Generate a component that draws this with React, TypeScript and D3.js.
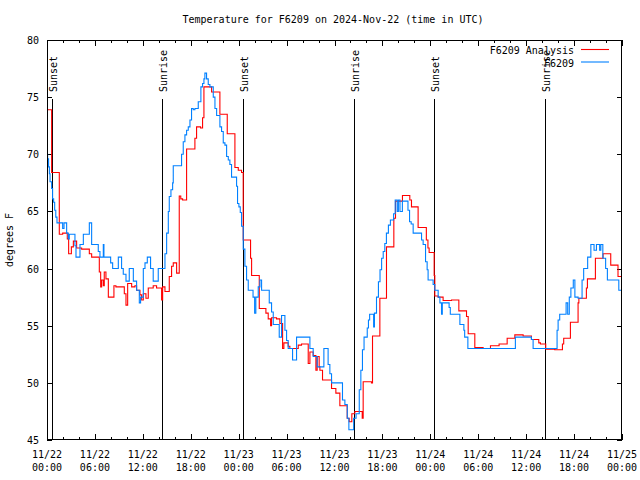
import React from "react";
import * as d3 from "d3";

const title = "Temperature for F6209 on 2024-Nov-22 (time in UTC)";
const yLabel = "degrees F";
const xTickHours = [0, 6, 12, 18, 24, 30, 36, 42, 48, 54, 60, 66, 72];
const xTickDates = ["11/22", "11/22", "11/22", "11/22", "11/23", "11/23", "11/23", "11/23", "11/24", "11/24", "11/24", "11/24", "11/25"];
const xTickTimes = ["00:00", "06:00", "12:00", "18:00", "00:00", "06:00", "12:00", "18:00", "00:00", "06:00", "12:00", "18:00", "00:00"];
const yTicks = [45, 50, 55, 60, 65, 70, 75, 80];

const sunHours = [0.59, 14.43, 24.57, 38.46, 48.48, 62.37];
const sunLabels = ["Sunset", "Sunrise", "Sunset", "Sunrise", "Sunset", "Sunrise"];

const seriesNames = ["F6209 Analysis", "F6209"];
const seriesColors = ["#ff0000", "#0080ff"];

// Analysis (red): [hour, temp]
const analysis: [number, number][] = [
  [0, 73.9], [0.58, 68.4], [1.54, 63.0], [1.96, 63.1], [2.54, 62.6], [2.71, 61.3], [3.05, 61.9], [3.3, 62.4],
  [3.71, 61.8], [4.34, 61.7], [5.3, 61.3], [5.59, 61.0], [6.55, 59.7], [6.72, 58.4], [6.84, 59.0], [7.05, 58.5],
  [7.17, 59.7], [7.38, 59.1], [7.68, 57.5], [8.38, 58.5], [8.63, 58.4], [9.68, 57.8], [9.89, 56.8], [10.1, 58.7],
  [10.6, 58.4], [11.01, 58.5], [11.22, 58.1], [11.64, 57.7], [11.85, 57.25], [12.06, 57.8], [12.39, 57.4],
  [12.68, 58.3], [13.3, 58.5], [13.72, 58.3], [14.35, 57.25], [14.48, 58.4], [14.77, 58.0], [15.31, 59.3],
  [15.6, 60.2], [15.81, 60.5], [16.23, 59.6], [16.56, 66.35], [16.75, 66.1], [16.98, 66.0], [17.48, 70.46],
  [18.52, 71.4], [18.73, 72.4], [19.23, 72.3], [19.48, 73.2], [19.65, 75.9], [20.61, 75.45], [21.65, 73.5],
  [22.57, 71.8], [23.53, 68.85], [23.95, 68.6], [24.36, 68.4], [24.57, 62.5], [25.49, 60.9], [25.62, 59.4],
  [26.58, 56.5], [27.41, 56.1], [27.7, 55.6], [28.0, 55.0], [28.12, 55.7], [28.74, 55.6], [29.16, 55.2],
  [29.5, 53.0], [29.66, 53.5], [30.2, 53.2], [30.41, 53.0], [31.46, 53.3], [31.87, 53.4], [32.71, 51.7],
  [32.92, 52.7], [33.33, 52.4], [33.67, 51.1], [33.83, 52.3], [34.08, 51.4], [34.17, 51.1], [34.5, 50.25],
  [35.63, 49.5], [36.17, 49.1], [36.67, 48.0], [37.59, 46.9], [37.84, 46.6], [38.17, 47.3], [38.55, 47.5],
  [39.47, 46.9], [39.59, 50.1], [40.63, 50.0], [40.76, 54.1], [41.68, 57.4], [42.51, 61.9], [43.43, 64.4],
  [43.64, 65.9], [44.51, 66.4], [45.43, 66.0], [45.64, 65.4], [46.47, 63.6], [47.5, 62.5], [47.7, 61.8],
  [47.85, 61.4], [48.48, 59.4], [48.56, 57.6], [48.98, 57.5], [49.6, 57.2], [50.65, 57.25], [51.57, 56.3],
  [52.53, 55.8], [52.74, 54.3], [53.57, 53.1], [54.61, 53.0], [55.53, 53.25], [56.61, 53.4], [57.62, 53.9],
  [58.58, 54.2], [59.62, 54.1], [60.66, 53.8], [61.58, 53.5], [61.79, 53.4], [62.45, 52.95], [63.58, 52.9],
  [64.54, 53.4], [64.7, 53.9], [65.54, 55.3], [66.5, 57.0], [66.6, 57.4], [67.54, 58.3], [67.67, 59.1],
  [68.67, 60.9], [69.63, 61.3], [70.59, 60.3], [71.5, 59.3], [72, 59.3],
];

// Observed (blue): [hour, temp]
const observed: [number, number][] = [
  [0, 70.0], [0.08, 69.6], [0.2, 68.9], [0.3, 68.3], [0.38, 67.6], [0.58, 67.0], [0.7, 66.1], [0.83, 65.8],
  [0.96, 65.1], [1.1, 64.5], [1.25, 64.0], [1.96, 63.5], [2.13, 64.0], [2.46, 63.1], [2.67, 62.6], [2.79, 63.0],
  [3.5, 62.0], [3.63, 61.0], [4.13, 62.1], [4.55, 63.0], [5.3, 64.0], [5.59, 62.1], [6.42, 61.5], [6.63, 61.0],
  [7.05, 62.1], [7.13, 61.0], [7.97, 60.5], [8.22, 60.0], [8.93, 61.0], [9.34, 60.0], [9.55, 59.5], [9.89, 58.9],
  [10.3, 60.0], [10.81, 58.9], [11.22, 58.1], [11.56, 57.0], [11.72, 57.5], [12.06, 60.0], [12.27, 60.5],
  [12.56, 61.0], [12.97, 60.0], [13.3, 58.9], [13.93, 60.0], [14.77, 61.3], [14.98, 63.1], [15.19, 65.0],
  [15.31, 66.3], [15.52, 66.9], [15.73, 67.5], [15.81, 69.0], [16.85, 70.0], [17.06, 71.1], [17.27, 71.7],
  [17.48, 72.1], [17.69, 72.4], [17.9, 73.0], [18.1, 74.0], [18.31, 73.9], [18.52, 74.0], [18.94, 74.6],
  [19.27, 75.9], [19.48, 76.2], [19.65, 76.6], [19.77, 77.1], [19.98, 76.6], [20.19, 76.1], [20.4, 75.9],
  [20.82, 75.0], [21.03, 74.0], [21.24, 73.4], [21.65, 72.4], [21.86, 72.0], [22.07, 71.0], [22.28, 70.8],
  [22.49, 69.8], [22.7, 69.5], [22.9, 69.1], [23.11, 68.0], [23.74, 67.2], [23.86, 65.7], [24.03, 65.4],
  [24.2, 64.9], [24.36, 63.7], [24.57, 61.7], [24.78, 60.2], [24.99, 59.0], [25.2, 58.1], [25.8, 57.5],
  [26.0, 56.1], [26.15, 57.5], [26.45, 58.4], [26.66, 59.0], [26.87, 58.1], [27.83, 57.0], [28.12, 56.2],
  [28.33, 55.1], [29.08, 54.0], [29.37, 55.9], [29.79, 54.6], [30.0, 53.7], [30.2, 53.0], [30.75, 52.0],
  [31.25, 54.0], [32.92, 53.0], [33.33, 52.3], [33.83, 51.4], [34.67, 53.0], [35.2, 51.6], [35.42, 50.8],
  [35.63, 50.0], [37.0, 48.5], [37.3, 48.1], [37.6, 46.9], [37.8, 45.9], [38.4, 46.9], [38.7, 47.3],
  [39.1, 49.4], [39.3, 51.1], [39.5, 52.9], [39.7, 54.0], [40.1, 54.8], [40.25, 55.5], [40.4, 56.0],
  [40.9, 54.9], [41.0, 56.1], [41.26, 57.5], [41.5, 58.85], [41.7, 59.9], [41.9, 60.9], [42.1, 61.5],
  [42.3, 62.2], [42.5, 63.1], [42.75, 63.8], [43.0, 64.25], [43.4, 64.8], [43.6, 66.0], [43.85, 65.0],
  [44.0, 66.0], [44.2, 65.0], [44.5, 65.9], [45.2, 65.1], [45.4, 64.1],
  [45.6, 63.9], [45.85, 63.1], [46.9, 62.5], [47.1, 62.1], [47.4, 60.6], [47.6, 59.9], [47.72, 59.0],
  [48.35, 58.6], [48.56, 58.1], [48.98, 57.5], [49.2, 57.0], [49.4, 56.0], [49.5, 57.0], [50.35, 56.6],
  [50.5, 56.0], [51.7, 55.1], [52.2, 54.6], [52.3, 54.0], [52.7, 53.0], [58.65, 54.0], [60.66, 53.8],
  [60.87, 53.0], [63.87, 54.6], [64.0, 55.5], [64.2, 56.0], [65.0, 57.0], [65.2, 56.0], [65.4, 57.5],
  [65.6, 58.3], [65.9, 59.0], [66.1, 57.5], [66.5, 57.4], [67.0, 59.0], [67.2, 60.0], [67.7, 61.0],
  [68.1, 62.1], [68.5, 61.6], [68.8, 62.1], [69.2, 61.6], [69.35, 62.1],
  [69.6, 60.9], [69.95, 60.0], [70.17, 59.0], [71.6, 58.1], [72, 58.1],
];

const W = 640;
const H = 480;
const left = 47;
const right = 622;
const top = 40;
const bottom = 440;
const FONT = "'DejaVu Sans Mono', 'Liberation Mono', monospace";

export default function App() {
  const x = d3.scaleLinear().domain([0, 72]).range([left, right]);
  const y = d3.scaleLinear().domain([45, 80]).range([bottom, top]);
  const line = d3
    .line<[number, number]>()
    .x((d) => x(d[0]))
    .y((d) => y(d[1]))
    .curve(d3.curveStepAfter);

  const minorTicks = d3.range(0, 73, 2).filter((h) => h % 6 !== 0);

  return (
    <svg
      width={W}
      height={H}
      style={{ position: "absolute", left: 0, top: 0, background: "#fff" }}
      fontFamily={FONT}
      fontSize={10}
    >
      <rect x={0} y={0} width={W} height={H} fill="#fff" />
      <text x={333} y={23} textAnchor="middle" fill="#000">
        {title}
      </text>
      <text
        transform={`translate(13,${(top + bottom) / 2}) rotate(-90)`}
        textAnchor="middle"
        fill="#000"
      >
        {yLabel}
      </text>

      {/* y ticks */}
      {yTicks.map((t) => (
        <g key={"y" + t}>
          <line x1={left} x2={left + 5} y1={Math.round(y(t)) + 0.5} y2={Math.round(y(t)) + 0.5} stroke="#000" />
          <line x1={right - 5} x2={right} y1={Math.round(y(t)) + 0.5} y2={Math.round(y(t)) + 0.5} stroke="#000" />
          <text x={39} y={y(t) + 4} textAnchor="end" fill="#000">
            {t}
          </text>
        </g>
      ))}

      {/* x ticks */}
      {xTickHours.map((h, i) => {
        const px = Math.round(x(h)) + 0.5;
        return (
          <g key={"x" + h}>
            <line x1={px} x2={px} y1={bottom} y2={bottom - 6} stroke="#000" />
            <line x1={px} x2={px} y1={top} y2={top + 6} stroke="#000" />
            <text x={x(h)} y={458} textAnchor="middle" fill="#000">
              {xTickDates[i]}
            </text>
            <text x={x(h)} y={471} textAnchor="middle" fill="#000">
              {xTickTimes[i]}
            </text>
          </g>
        );
      })}
      {minorTicks.map((h) => {
        const px = Math.round(x(h)) + 0.5;
        return (
          <g key={"m" + h}>
            <line x1={px} x2={px} y1={bottom} y2={bottom - 3} stroke="#000" />
            <line x1={px} x2={px} y1={top} y2={top + 3} stroke="#000" />
          </g>
        );
      })}

      {/* sun lines */}
      {sunHours.map((h, i) => {
        const px = Math.round(x(h)) + 0.5;
        return (
          <g key={"s" + i}>
            <line x1={px} x2={px} y1={99} y2={bottom} stroke="#000" />
            <text
              transform={`translate(${px + 4.5},92) rotate(-90)`}
              textAnchor="start"
              fill="#000"
            >
              {sunLabels[i]}
            </text>
          </g>
        );
      })}

      {/* series */}
      <path d={line(analysis) || ""} fill="none" stroke={seriesColors[0]} strokeWidth={1.1} />
      <path d={line(observed) || ""} fill="none" stroke={seriesColors[1]} strokeWidth={1.1} />

      {/* frame */}
      <rect
        x={left + 0.5}
        y={top + 0.5}
        width={right - left - 1}
        height={bottom - top - 1}
        fill="none"
        stroke="#000"
      />

      {/* legend */}
      {seriesNames.map((n, i) => (
        <g key={"l" + i}>
          <text x={574} y={54 + i * 12.5} textAnchor="end" fill="#000">
            {n}
          </text>
          <line x1={581} x2={609} y1={49.5 + i * 12.5} y2={49.5 + i * 12.5} stroke={seriesColors[i]} strokeWidth={1.1} />
        </g>
      ))}
    </svg>
  );
}
